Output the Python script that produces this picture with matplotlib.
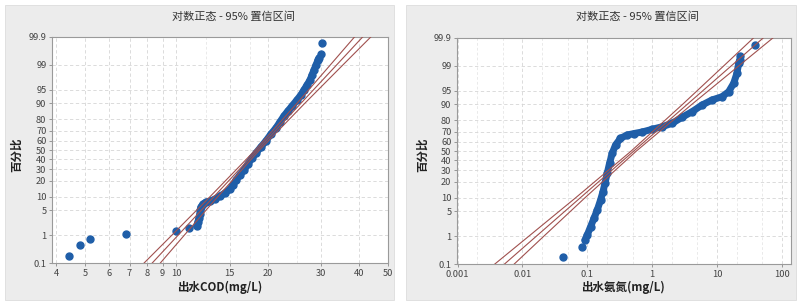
import numpy as np
import matplotlib
matplotlib.use('Agg')
import matplotlib.pyplot as plt
from matplotlib.patches import Rectangle
from matplotlib.ticker import FixedLocator, NullFormatter, NullLocator
from statistics import NormalDist

plt.rcParams['font.family'] = ['Noto Sans CJK SC', 'DejaVu Sans']

# --- left panel: effluent COD (value, percent)
cod_x = [4.40, 4.80, 5.20, 6.79, 10.0, 11.01,
         11.65, 11.77, 11.86, 11.95, 11.99, 12.04, 12.22, 12.50, 12.89, 13.39,
         13.91, 14.45, 15.02, 15.37, 15.72, 16.20, 16.71, 17.22, 17.76, 18.31,
         19.01, 19.75, 20.53, 21.32, 21.98, 22.66, 23.36, 24.09, 25.02, 25.79,
         26.39, 27.01, 27.63, 28.06, 28.49, 28.93, 29.37, 29.60,
         29.99, 30.29]
cod_p = [0.193, 0.495, 0.787, 1.06, 1.39, 1.68,
         1.89, 2.45, 3.15, 4.01, 5.04, 5.95, 6.99, 7.75, 8.15, 9.01,
         10.42, 11.98, 14.32, 16.93, 20.6, 24.7, 29.2, 35.1, 41.3, 46.7,
         53.3, 59.7, 66.9, 72.6, 77.8, 82.4, 85.7, 88.5, 91.4, 93.4,
         94.96, 96.2, 97.2, 97.99, 98.57, 98.99, 99.31, 99.41,
         99.56, 99.82]
cod_band = (6, 44)   # dense run of overlapping points

# --- right panel: effluent ammonia nitrogen
nh3_x = [0.0428, 0.0838,
         0.0922, 0.100, 0.1124, 0.1268, 0.1425, 0.1602, 0.1745, 0.1872, 0.2031,
         0.2204, 0.2424, 0.2725, 0.3253, 0.4124, 0.5227, 0.7017, 1.0, 1.425,
         2.030, 2.894, 4.124, 5.876, 8.377, 11.94, 15.14, 18.07, 20.31, 21.58,
         22.35,
         22.81, 38.83]
nh3_p = [0.187, 0.453,
         0.761, 1.10, 1.95, 3.32, 5.38, 9.07, 13.35, 18.92, 27.16,
         36.88, 47.5, 56.5, 63.5, 66.9, 68.3, 69.8, 72.3, 74.6,
         77.5, 82.1, 85.8, 89.5, 91.8, 93.07, 94.7, 96.76, 98.3, 99.16,
         99.35,
         99.54, 99.81]
nh3_band = (2, 31)

# fitted lognormal line and 95% band, read at these percents
fit_p = [0.1, 1, 10, 50, 90, 99, 99.9]
cod_fit = [8.30, 10.12, 13.27, 18.51, 25.83, 33.88, 41.30]
cod_lo = [7.80, 9.65, 12.88, 18.22, 25.07, 32.29, 38.82]
cod_hi = [8.83, 10.61, 13.67, 18.81, 26.61, 35.54, 43.95]
nh3_fit = [0.00524, 0.01633, 0.0774, 0.5224, 3.524, 16.71, 52.1]
nh3_lo = [0.00371, 0.0125, 0.0656, 0.4764, 2.985, 12.79, 36.90]
nh3_hi = [0.00740, 0.0213, 0.0914, 0.5728, 4.159, 21.83, 73.6]

p_ticks = [0.1, 1, 5, 10, 20, 30, 40, 50, 60, 70, 80, 90, 95, 99, 99.9]
cod_ticks = [4, 5, 6, 7, 8, 9, 10, 15, 20, 30, 40, 50]
cod_minor = [12.5, 17.5, 25]
nh3_ticks = [0.001, 0.01, 0.1, 1, 10, 100]
nh3_tick_labels = ['0.001', '0.01', '0.1', '1', '10', '100']
nh3_minor = [m * 10.0 ** e for e in range(-3, 3) for m in (2, 5)]

title = '对数正态 - 95% 置信区间'
blue = '#1f5ea8'
red = '#a0504e'

nd = NormalDist()


def prob_fwd(p):
    p = np.clip(np.asarray(p, dtype=float) / 100.0, 1e-7, 1 - 1e-7)
    return np.array([nd.inv_cdf(v) if np.isfinite(v) else np.nan
                     for v in p.ravel()]).reshape(p.shape)


def prob_inv(z):
    z = np.asarray(z, dtype=float)
    return np.array([nd.cdf(v) * 100 if np.isfinite(v) else np.nan
                     for v in z.ravel()]).reshape(z.shape)


fig = plt.figure(figsize=(8.0, 3.03), dpi=100)
fig.patch.set_facecolor('white')
for x0, x1 in [(5, 394), (406, 796)]:
    fig.patches.append(Rectangle((x0 / 800, 3 / 303), (x1 - x0) / 800, 295 / 303,
                                 transform=fig.transFigure, facecolor='#ececec',
                                 edgecolor='#dcdcdc', lw=0.6, zorder=-5))


def panel(rect, xs, ps, band, fit, lo, hi, xlim, ticks, labels, minor, xlabel, tx, lx, ylx):
    ax = fig.add_axes(rect)
    ax.set_facecolor('white')
    ax.set_xscale('log')
    ax.set_yscale('function', functions=(prob_fwd, prob_inv))
    ax.set_xlim(*xlim)
    ax.set_ylim(0.1, 99.9)

    ax.set_xticks(ticks)
    ax.set_xticklabels(labels)
    ax.xaxis.set_minor_locator(FixedLocator(minor))
    ax.xaxis.set_minor_formatter(NullFormatter())
    ax.set_yticks(p_ticks)
    ax.set_yticklabels([str(v) for v in p_ticks])
    ax.yaxis.set_minor_locator(NullLocator())
    ax.tick_params(which='major', length=2.5, width=0.6, color='#888888',
                   labelsize=6.7, labelcolor='#444444', pad=1.5)
    ax.tick_params(which='minor', length=0)
    ax.grid(which='major', color='#d6d6d6', ls=(0, (4, 3)), lw=0.6)
    ax.grid(which='minor', axis='x', color='#e2e2e2', ls=(0, (4, 3)), lw=0.5)
    ax.set_axisbelow(True)
    for s in ax.spines.values():
        s.set_color('#9a9a9a')
        s.set_linewidth(0.8)

    # fitted line and confidence band
    for line in (fit, lo, hi):
        ax.plot(line, fit_p, color=red, lw=0.8, zorder=4)

    a, b = band
    ax.plot(xs[a:b], ps[a:b], color=blue, lw=5.0, solid_capstyle='round',
            solid_joinstyle='round', zorder=3)
    ax.plot(xs, ps, 'o', color=blue, ms=5.0, mec=blue, zorder=3)

    fig.text(tx, 0.945, title, ha='center', va='center', fontsize=8, color='#333333')
    fig.text(lx, 0.052, xlabel, ha='center', va='center', fontsize=8.3,
             fontweight='bold', color='#222222')
    fig.text(ylx, 0.49, '百分比', ha='center', va='center', rotation=90,
             fontsize=8.3, fontweight='bold', color='#222222')
    return ax


panel([52 / 800, 1 - 263.3 / 303, 336 / 800, 226.6 / 303],
      cod_x, cod_p, cod_band, cod_fit, cod_lo, cod_hi, (3.88, 50),
      cod_ticks, [str(t) for t in cod_ticks], cod_minor, '出水COD(mg/L)',
      233 / 800, 219.5 / 800, 17 / 800)

panel([457 / 800, 1 - 264.3 / 303, 333.7 / 800, 226.6 / 303],
      nh3_x, nh3_p, nh3_band, nh3_fit, nh3_lo, nh3_hi, (0.00098, 137),
      nh3_ticks, nh3_tick_labels, nh3_minor, '出水氨氮(mg/L)',
      637 / 800, 622.5 / 800, 423 / 800)

fig.savefig('out.png', dpi=100)
